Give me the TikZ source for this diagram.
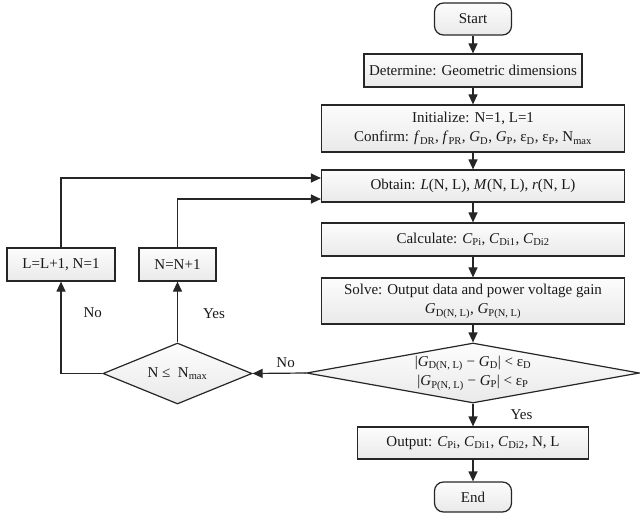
\documentclass[tikz,border=0pt]{standalone}
\usepackage{fontspec}
\setmainfont{Liberation Serif}
\usetikzlibrary{positioning, arrows.meta, shapes.geometric}
\newcommand{\itsub}[2]{\textit{#1}\textsubscript{#2}}

\begin{document}
\begin{tikzpicture}[
  x=1pt, y=1pt,
  texto/.style={font=\fontsize{15}{19.5}\selectfont, text=black!90},
  caja/.style={
    texto, rectangle, draw=black!85, line width=1.2pt,
    top color=gray!2, bottom color=gray!17,
    align=center, inner sep=0pt, minimum width=303pt
  },
  terminal/.style={caja, rounded corners=9pt, minimum width=77pt, minimum height=32pt},
  decision/.style={
    diamond, draw=black!85, line width=1.2pt,
    top color=gray!2, bottom color=gray!17, inner sep=0pt
  },
  flecha/.style={-{Triangle[length=10pt, width=9pt]}, line width=1.2pt, draw=black!85},
  lbl/.style={texto, align=center, inner sep=0pt}
]
\useasboundingbox (0,0) rectangle (640,-513);

%% columna principal
\node[terminal] (inicio) at (473,-19) {Start};
\node[caja, minimum width=218pt, minimum height=33pt] (geom) at (473,-70.5)
  {Determine: Geometric dimensions};
\node[caja, minimum height=47pt] (init) at (473,-128.5)
  {Initialize: N=1, L=1\\Confirm: \itsub{f}{DR}, \itsub{f}{PR}, \itsub{G}{D}, \itsub{G}{P}, ε\textsubscript{D}, ε\textsubscript{P}, N\textsubscript{max}};
\node[caja, minimum height=32pt] (obt) at (473,-186)
  {Obtain: \textit{L}(N, L), \textit{M}(N, L), \textit{r}(N, L)};
\node[caja, minimum height=33pt] (calc) at (473,-239.5)
  {Calculate: \itsub{C}{Pi}, \itsub{C}{Di1}, \itsub{C}{Di2}};
\node[caja, minimum height=46pt] (solve) at (473,-301)
  {Solve: Output data and power voltage gain\\\itsub{G}{D(N, L)}, \itsub{G}{P(N, L)}};
\node[decision, minimum width=333pt, minimum height=60pt] (conv) at (473,-373) {};
\node[lbl] (convtxt) at (conv)
  {|\itsub{G}{D(N, L)} − \itsub{G}{D}| < ε\textsubscript{D}\\|\itsub{G}{P(N, L)} − \itsub{G}{P}| < ε\textsubscript{P}};
\node[caja, minimum width=231pt, minimum height=32pt] (salida) at (473,-443)
  {Output: \itsub{C}{Pi}, \itsub{C}{Di1}, \itsub{C}{Di2}, N, L};
\node[terminal, minimum height=30pt] (fin) at (473,-497) {End};

%% lazo de N y L
\node[decision, minimum width=149pt, minimum height=61pt] (cmpN) at (177.5,-373.5) {};
\node[lbl] (cmpNtxt) at (cmpN) {N ≤\enspace N\textsubscript{max}};
\node[caja, minimum width=108pt, minimum height=33pt] (incL) at (61,-264.5) {L=L+1, N=1};
\node[caja, minimum width=77pt, minimum height=33pt] (incN) at (177.5,-264.5) {N=N+1};

%% flechas
\draw[flecha] (inicio) -- (geom);
\draw[flecha] (geom) -- (init);
\draw[flecha] (init) -- (obt);
\draw[flecha] (obt) -- (calc);
\draw[flecha] (calc) -- (solve);
\draw[flecha] (solve) -- (conv);
\draw[flecha] (conv) -- node[lbl, right=37pt, midway] {Yes} (salida);
\draw[flecha] (salida) -- (fin);

\draw[flecha] (conv.west) -- node[lbl, above=5pt, pos=0.38] {No} (cmpN.east);
\draw[flecha] (cmpN.west) -| node[lbl, right=22pt, pos=0.83] {No} (incL.south);
\draw[flecha] (cmpN.north) -- node[lbl, right=25pt, pos=0.48] {Yes} (incN.south);

% retorno a Obtain
\draw[flecha] (incL.north) |- ([yshift=8pt]obt.west);
\draw[flecha] (incN.north) |- ([yshift=-13pt]obt.west);

\end{tikzpicture}
\end{document}
